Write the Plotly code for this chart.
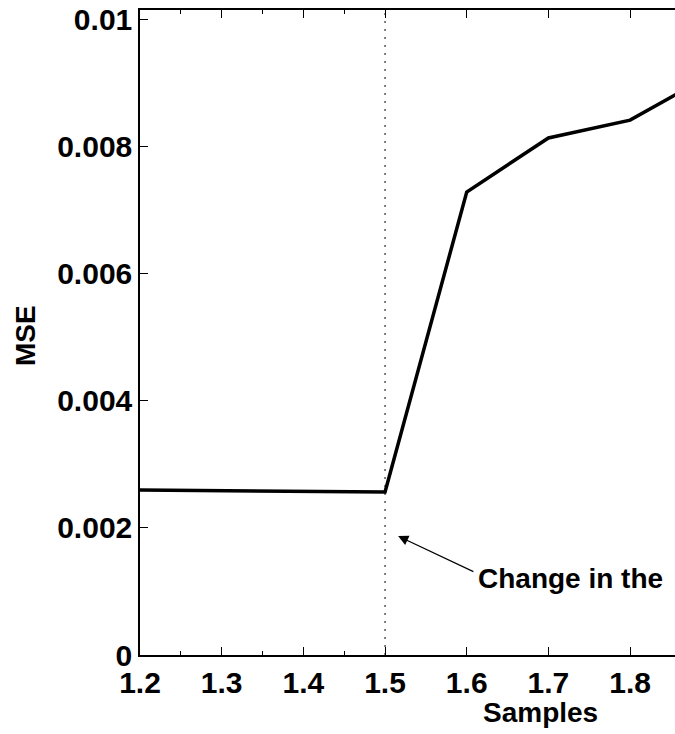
import plotly.graph_objects as go

samples = [1.2, 1.3, 1.4, 1.5, 1.6, 1.7, 1.8, 1.9]
mse = [0.002594, 0.002588, 0.002575, 0.002563, 0.00728, 0.00813, 0.00841, 0.00913]

y_tickvals = [0, 0.002, 0.004, 0.006, 0.008, 0.01]
y_ticktext = ["0", "0.002", "0.004", "0.006", "0.008", "0.01"]
x_tickvals = [1.2, 1.3, 1.4, 1.5, 1.6, 1.7, 1.8]
x_ticktext = ["1.2", "1.3", "1.4", "1.5", "1.6", "1.7", "1.8"]
x_minor_ticks = [1.25, 1.35, 1.45]

change_x = 1.5
annot_text = "Change in the"

FONT = "Liberation Sans, Arial, sans-serif"

fig = go.Figure()
fig.add_trace(go.Scatter(x=samples, y=mse, mode="lines",
                         line=dict(color="black", width=3.5), showlegend=False))

fig.add_shape(type="line", x0=change_x, x1=change_x, y0=0, y1=1, yref="paper",
              line=dict(color="black", width=1, dash="2px,6px"))

fig.add_annotation(x=1.516, y=0.00187, ax=1.61, ay=0.00130,
                   axref="x", ayref="y", xref="x", yref="y",
                   text="", showarrow=True, arrowhead=2, arrowsize=1.7,
                   arrowwidth=1.2, arrowcolor="black")
fig.add_annotation(x=1.6115, y=0.00121, xref="x", yref="y", text="<b>" + annot_text + "</b>",
                   showarrow=False, xanchor="left", yanchor="middle",
                   font=dict(family=FONT, size=28, color="black"))

# axis titles placed in pixel-derived paper coords
fig.add_annotation(x=(540 - 140) / 535, y=-(712 - 655) / 645, xref="paper", yref="paper",
                   text="<b>Samples</b>", showarrow=False, xanchor="center", yanchor="middle",
                   font=dict(family=FONT, size=28, color="black"))
fig.add_annotation(x=(25 - 140) / 535, y=(655 - 336) / 645, xref="paper", yref="paper",
                   text="<b>MSE</b>", showarrow=False, xanchor="center", yanchor="middle",
                   textangle=-90, font=dict(family=FONT, size=28, color="black"))

fig.update_layout(
    width=675, height=734,
    margin=dict(l=140, r=0, t=10, b=79),
    plot_bgcolor="white", paper_bgcolor="white",
    font=dict(family=FONT, size=30, color="black"),
    xaxis=dict(range=[1.2, 1.855], tickvals=x_tickvals, ticktext=x_ticktext,
               ticks="inside", ticklen=8, tickwidth=1, tickcolor="black",
               showline=True, linecolor="black", linewidth=1.5, mirror="ticks",
               showgrid=False, zeroline=False,
               tickfont=dict(family=FONT, size=30, color="black", weight="bold"),
               minor=dict(ticks="inside", ticklen=4, tickvals=x_minor_ticks, tickcolor="black")),
    yaxis=dict(range=[0, 0.010142], tickvals=y_tickvals, ticktext=y_ticktext,
               ticks="inside", ticklen=8, tickwidth=1, tickcolor="black",
               showline=True, linecolor="black", linewidth=1.5, mirror=False,
               showgrid=False, zeroline=False,
               tickfont=dict(family=FONT, size=30, color="black", weight="bold")),
)

fig.write_html("out.html")
